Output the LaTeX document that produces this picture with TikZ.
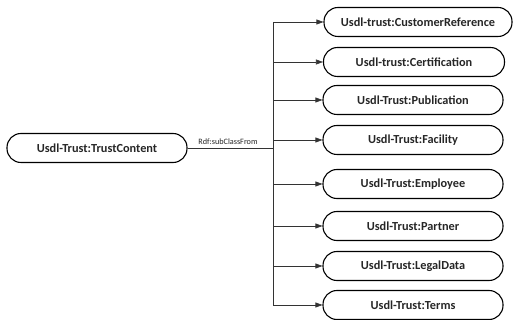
\documentclass[tikz,border=0pt]{standalone}
\usepackage{fontspec}
\setmainfont{Carlito}
\usetikzlibrary{arrows.meta}
\begin{document}
\begin{tikzpicture}[x=1pt,y=-1pt,
  cls/.style={draw,line width=1.1pt,rounded corners=14pt,minimum height=29pt,inner sep=0pt,font=\bfseries\fontsize{12.3}{14}\selectfont,text=black!85},
  conn/.style={line width=0.6pt,draw=black!80},
  arr/.style={conn,-{Triangle[length=7pt,width=5pt]}}]
\useasboundingbox (0,0) rectangle (517,320);
\node[cls,minimum width=180pt] (root) at (97,148) {Usdl-Trust:TrustContent};
\node[cls,minimum width=188pt] (n1) at (418,22) {Usdl-trust:CustomerReference};
\node[cls,minimum width=181pt] (n2) at (414,62) {Usdl-trust:Certification};
\node[cls,minimum width=180pt] (n3) at (413,100) {Usdl-Trust:Publication};
\node[cls,minimum width=180pt] (n4) at (413,140) {Usdl-Trust:Facility};
\node[cls,minimum width=180pt] (n5) at (413,184) {Usdl-Trust:Employee};
\node[cls,minimum width=180pt] (n6) at (413,226) {Usdl-Trust:Partner};
\node[cls,minimum width=180pt] (n7) at (413,266) {Usdl-Trust:LegalData};
\node[cls,minimum width=180pt] (n8) at (413,305) {Usdl-Trust:Terms};
\coordinate (bt) at (273,22);
\coordinate (bb) at (273,305);
\coordinate (bj) at (273,148);
\coordinate (lbl) at (228,142);
\draw[conn] (bt) -- (bb);
\draw[conn] (root.east) -- (bj);
\node[font=\fontsize{8.2}{10}\selectfont,inner sep=0pt,text=black!85] (rl) at (lbl) {Rdf:subClassFrom};
\foreach \n in {n1,n2,n3,n4,n5,n6,n7,n8}{
  \draw[arr] (273,0 |- \n.west) -- (\n.west);
}
\end{tikzpicture}
\end{document}
